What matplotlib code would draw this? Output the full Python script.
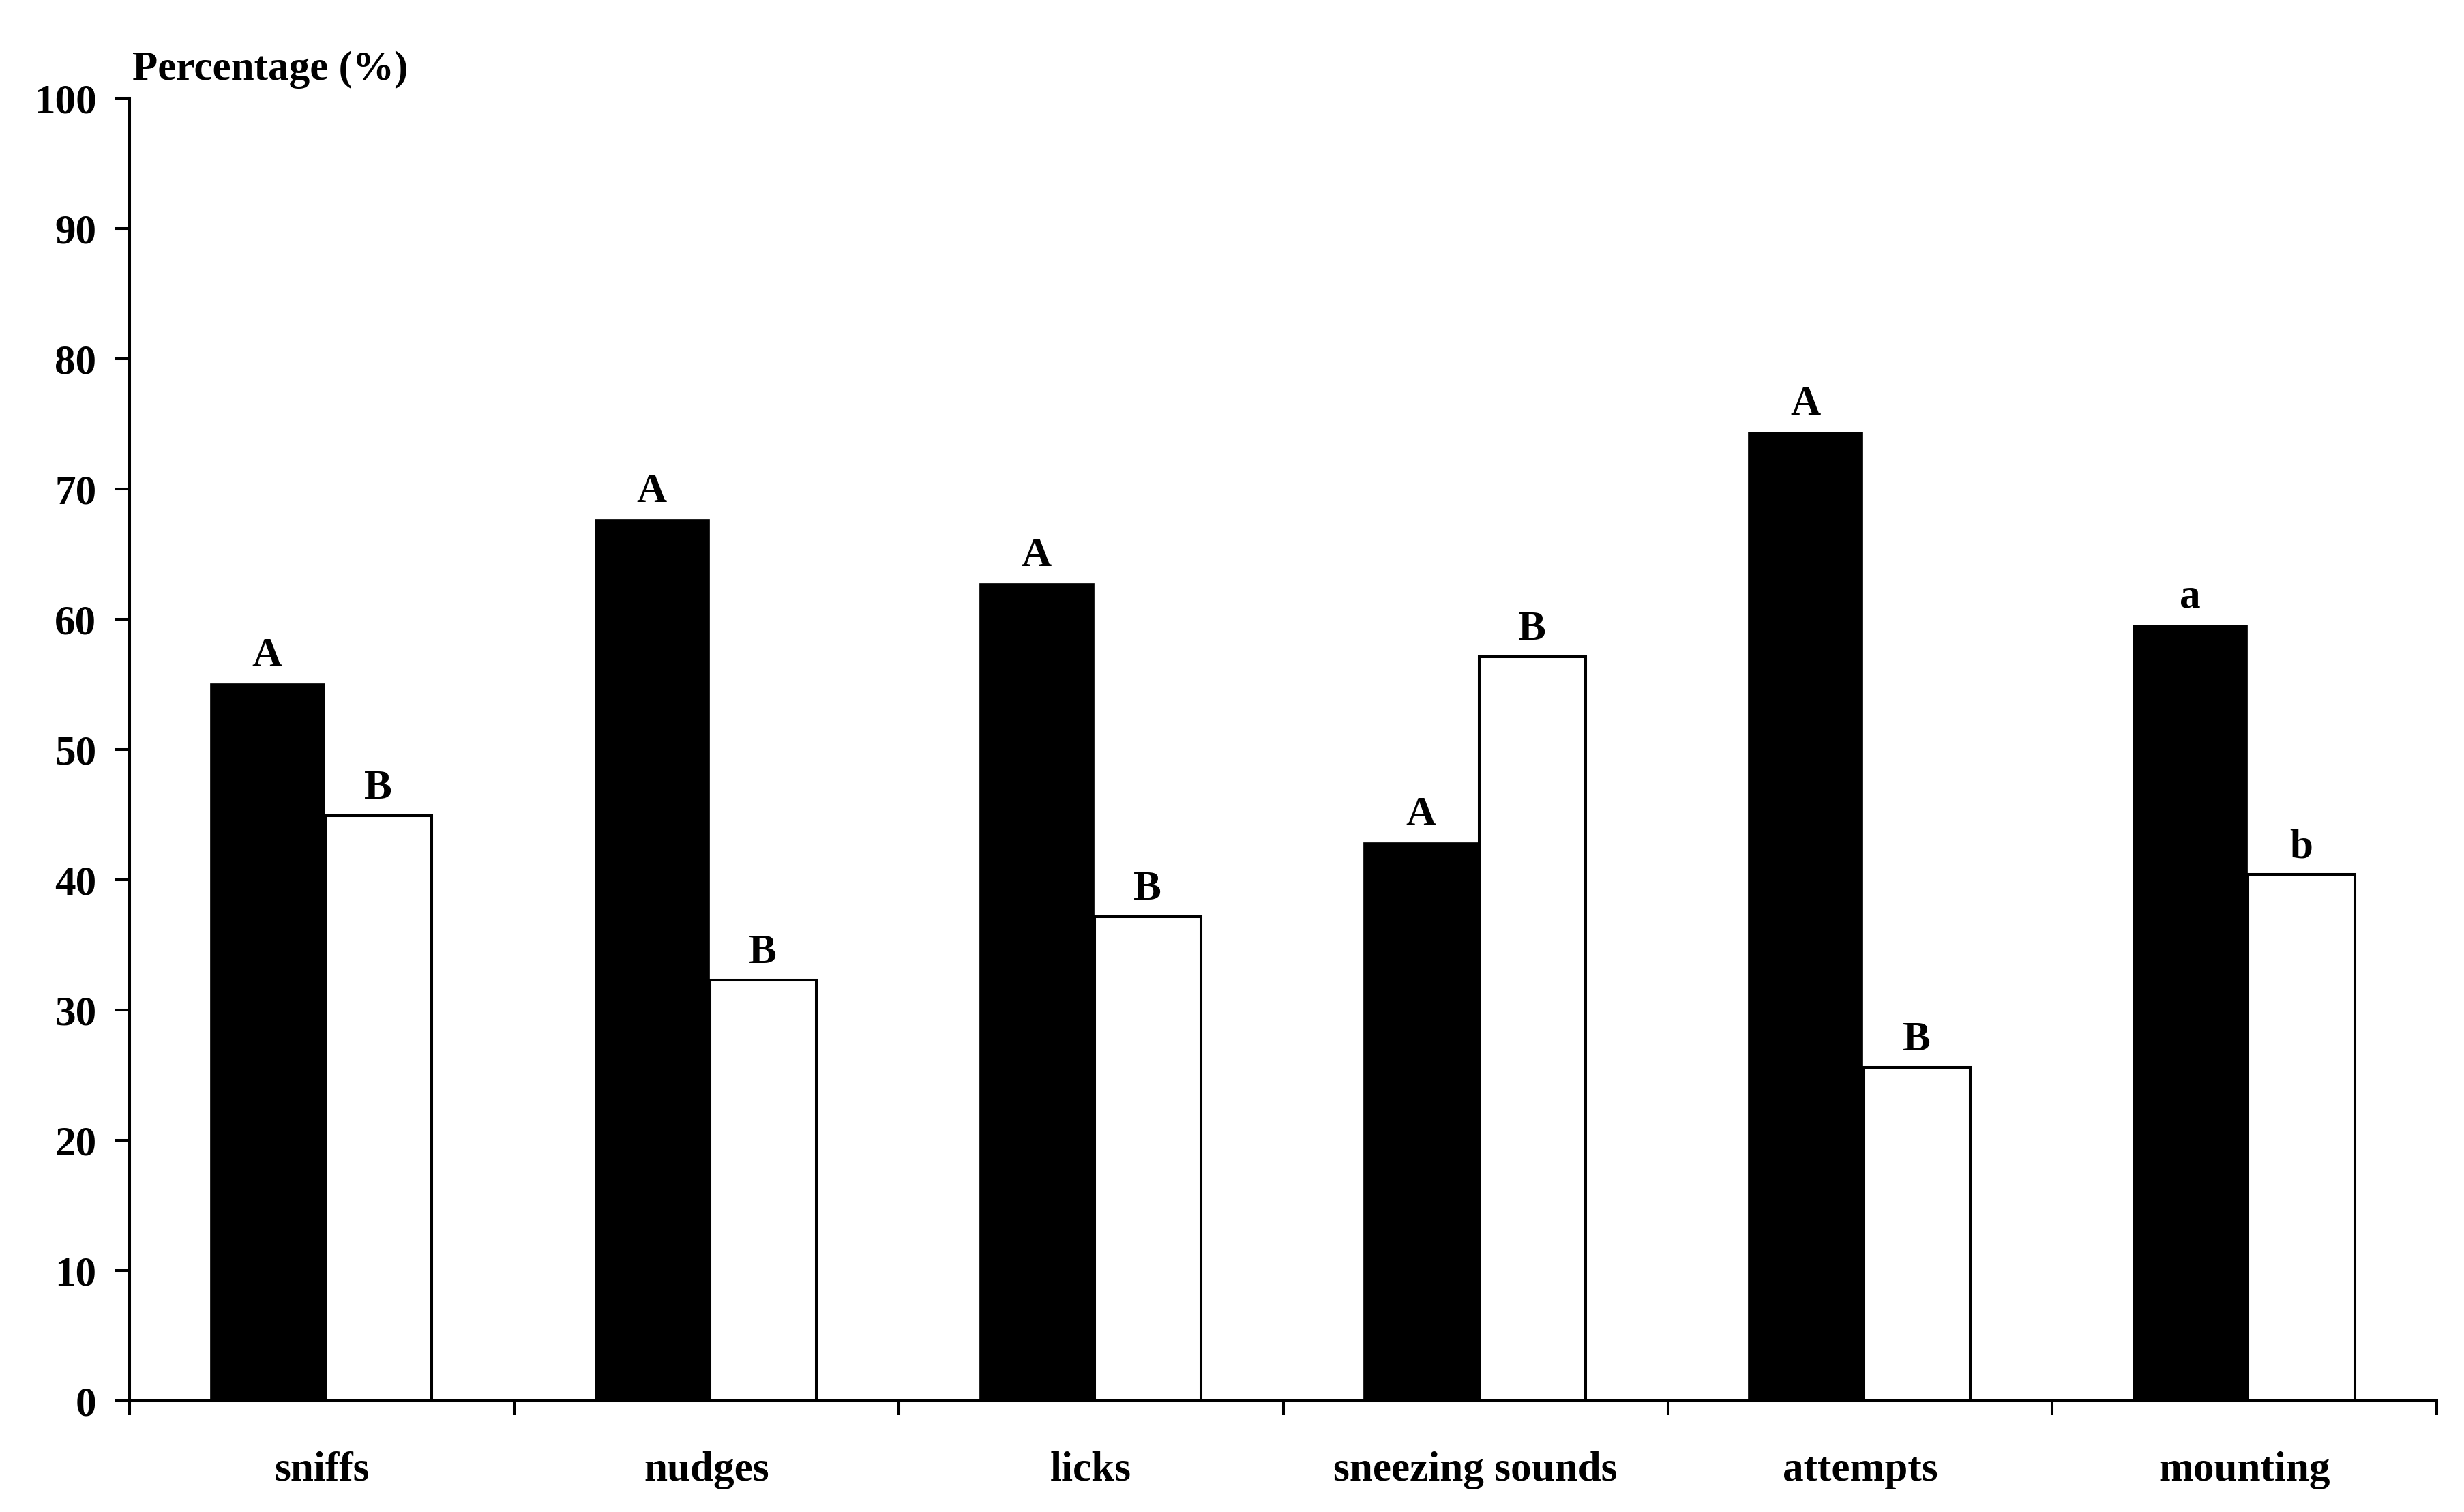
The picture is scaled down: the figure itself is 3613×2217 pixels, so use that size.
import matplotlib
matplotlib.use("Agg")
import matplotlib.pyplot as plt
import numpy as np

# valores (%)
categorias = ['sniffs', 'nudges', 'licks', 'sneezing sounds', 'attempts', 'mounting']
preto = [55.1, 67.7, 62.8, 42.9, 74.4, 59.6]
branco = [44.9, 32.3, 37.2, 57.1, 25.6, 40.4]
letras_preto = ['A', 'A', 'A', 'A', 'A', 'a']
letras_branco = ['B', 'B', 'B', 'B', 'B', 'b']
yticks = list(range(0, 101, 10))

plt.rcParams['font.family'] = ['Liberation Serif', 'DejaVu Serif']
plt.rcParams['font.weight'] = 'bold'
plt.rcParams['font.size'] = 44

fig = plt.figure(figsize=(36.13, 22.17), dpi=100)
ax = fig.add_axes([0.0526, 0.0735, 0.9364, 0.8615])

x = np.arange(len(categorias))
lw = 2.9
ax.bar(x - 0.291, preto, width=0.298, align='edge', color='black',
       edgecolor='black', linewidth=0.5)
ax.bar(x + 0.009, branco, width=0.277, align='edge', color='white',
       edgecolor='black', linewidth=lw)

for xi, v, t in zip(x, preto, letras_preto):
    ax.annotate(t, (xi - 0.142, v), xytext=(0, 18), textcoords='offset points',
                ha='center', va='baseline', fontweight='bold')
for xi, v, t in zip(x, branco, letras_branco):
    ax.annotate(t, (xi + 0.147, v), xytext=(0, 18), textcoords='offset points',
                ha='center', va='baseline', fontweight='bold')

ax.set_xlim(-0.5, len(categorias) - 0.5)
ax.set_ylim(0, 100)
ax.set_yticks(yticks)
ax.set_yticklabels([str(v) for v in yticks])

ax.set_xticks(np.arange(-0.5, len(categorias), 1.0))
ax.set_xticklabels([])
ax.set_xticks(x, minor=True)
ax.set_xticklabels(categorias, minor=True)

ax.tick_params(axis='y', which='major', direction='out', length=15, width=lw, pad=20)
ax.tick_params(axis='x', which='major', direction='out', length=15, width=lw)
ax.tick_params(axis='x', which='minor', length=0, pad=53)

for s in ['top', 'right']:
    ax.spines[s].set_visible(False)
for s in ['left', 'bottom']:
    ax.spines[s].set_linewidth(lw)

fig.text(194 / 3613, 1 - 117 / 2217, 'Percentage (%)', ha='left', va='baseline',
         fontweight='bold')

fig.savefig('out.png', dpi=100)
